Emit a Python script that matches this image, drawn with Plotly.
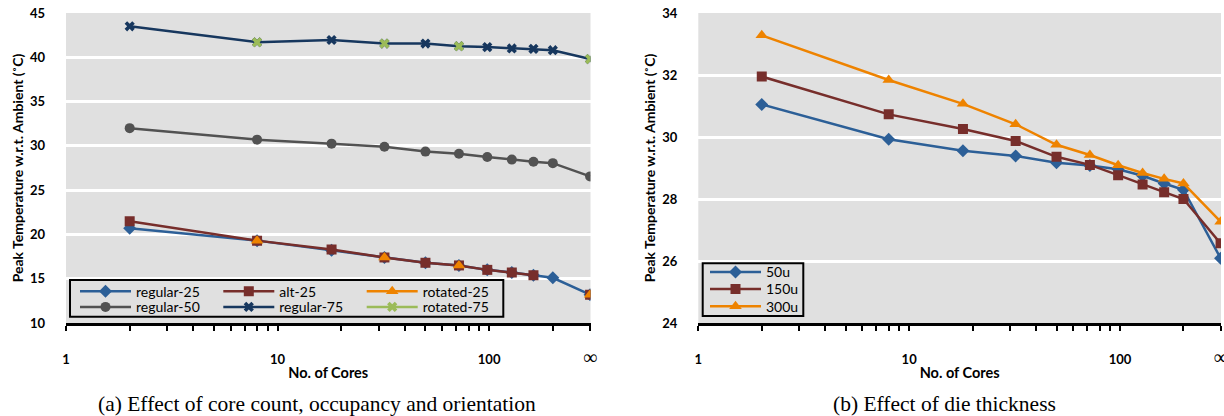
import math
import plotly.graph_objects as go

W, H = 1224, 416
ML, MR, MT, MB = 66, 3, 13, 93
PW = W - ML - MR
PH = H - MT - MB

def px_x(p):
    return (p - ML) / PW

def px_y(p):
    return (H - MB - p) / PH

# ---------------- data ----------------
cores = [2, 8, 18, 32, 50, 72, 98, 128, 162, 200, 300]      # 300 plotted as "∞"

# None = no measurement at that core count (line is broken there)
regular25 = [20.7, 19.3, 18.2, 17.4, 16.8, 16.5, 16.0, 15.7, 15.4, 15.1, 13.2]
alt25 = [21.5, 19.3, 18.3, 17.4, 16.8, 16.5, 16.0, 15.7, 15.4, None, 13.2]
rotated25 = [None, 19.3, None, 17.4, None, 16.5, None, None, None, None, 13.2]
regular50 = [32.0, 30.7, 30.25, 29.9, 29.35, 29.1, 28.75, 28.45, 28.2, 28.05, 26.55]
regular75 = [43.5, 41.7, 41.95, 41.55, 41.55, 41.25, 41.15, 41.0, 40.95, 40.8, 39.8]
rotated75 = [None, 41.7, None, 41.55, None, 41.25, None, None, None, None, 39.8]

thick50 = [31.05, 29.93, 29.56, 29.39, 29.17, 29.08, 28.96, 28.75, 28.5, 28.3, 26.09]
thick150 = [31.95, 30.73, 30.26, 29.87, 29.36, 29.1, 28.77, 28.47, 28.22, 28.0, 26.57]
thick300 = [33.28, 31.84, 31.07, 30.41, 29.75, 29.42, 29.09, 28.84, 28.65, 28.5, 27.27]

x_tickvals = [1, 10, 100, 300]
x_ticktext = ["1", "10", "100",
              "<span style='font-family:Liberation Serif;font-weight:normal;font-size:20px'>∞</span>"]
x_minor = [2, 3, 4, 5, 6, 7, 8, 9, 20, 30, 40, 50, 60, 70, 80, 90, 200]
left_yticks = [10, 15, 20, 25, 30, 35, 40, 45]
right_yticks = [24, 26, 28, 30, 32, 34]

BLUE = "#2C5F97"
BROWN = "#772E2B"
ORANGE = "#EE8300"
GRAY = "#525252"
NAVY = "#17375E"
GREEN = "#9BBB59"
BG = "#E0E0E0"

FONT = "Lato"

fig = go.Figure()

def add(x, y, name, color, symbol, size, xa, ya, legend):
    fig.add_trace(go.Scatter(
        x=x, y=y, name=name, mode="lines+markers", connectgaps=False,
        line=dict(color=color, width=2.5),
        marker=dict(symbol=symbol, size=size, color=color,
                    line=dict(width=0)),
        xaxis=xa, yaxis=ya, legend=legend))

add(cores, regular25, "regular-25", BLUE, "diamond", 10, "x", "y", "legend")
add(cores, alt25, "alt-25", BROWN, "square", 10, "x", "y", "legend2")
add(cores, rotated25, "rotated-25", ORANGE, "triangle-up", 11, "x", "y", "legend3")
add(cores, regular50, "regular-50", GRAY, "circle", 10, "x", "y", "legend4")
add(cores, regular75, "regular-75", NAVY, "x", 9, "x", "y", "legend5")
add(cores, rotated75, "rotated-75", GREEN, "x", 9, "x", "y", "legend6")

add(cores, thick50, "50u", BLUE, "diamond", 10, "x2", "y2", "legend7")
add(cores, thick150, "150u", BROWN, "square", 10, "x2", "y2", "legend8")
add(cores, thick300, "300u", ORANGE, "triangle-up", 11, "x2", "y2", "legend9")

tickfont = dict(family=FONT, size=13, color="black", weight="bold")

def xaxis_cfg(domain):
    return dict(
        type="log", domain=domain,
        range=[0, math.log10(300) + 0.002],
        tickmode="array", tickvals=x_tickvals, ticktext=x_ticktext,
        showline=True, linecolor="black", linewidth=3,
        ticks="outside", ticklen=5, tickwidth=2, tickcolor="black",
        minor=dict(tickmode="array", tickvals=x_minor, ticks="outside",
                   ticklen=5, tickwidth=2, tickcolor="black", showgrid=False),
        showgrid=False, zeroline=False,
        tickfont=tickfont, ticklabelstandoff=17, ticklabeloverflow="allow",
        title=dict(text="No. of Cores",
                   font=dict(family=FONT, size=14.5, color="black", weight="bold"),
                   standoff=2),
    )

def yaxis_cfg(rng, tickvals, anchor):
    return dict(
        range=rng, tickmode="array", tickvals=tickvals,
        showgrid=True, gridcolor="white", gridwidth=3,
        showline=False, zeroline=False, ticks="",
        tickfont=tickfont, ticklabelstandoff=20, anchor=anchor,
        title=dict(text="Peak Temperature w.r.t. Ambient (˚C)",
                   font=dict(family=FONT, size=14, color="black", weight="bold"),
                   standoff=3),
    )

left_dom = [0, px_x(590.5)]
right_dom = [px_x(698.3), 1]

legend_common = dict(
    orientation="v", bgcolor="rgba(0,0,0,0)", borderwidth=0,
    font=dict(family=FONT, size=14, color="black"),
    itemwidth=51, xref="paper", yref="paper",
    xanchor="left", yanchor="middle",
)

def leg(sym_left, row_center):
    return dict(legend_common, x=px_x(sym_left - 5), y=px_y(row_center))

fig.update_layout(
    width=W, height=H,
    margin=dict(l=ML, r=MR, t=MT, b=MB, autoexpand=False),
    paper_bgcolor="white", plot_bgcolor=BG,
    xaxis=xaxis_cfg(left_dom),
    yaxis=yaxis_cfg([10, 45], left_yticks, "x"),
    xaxis2=dict(xaxis_cfg(right_dom), anchor="y2"),
    yaxis2=yaxis_cfg([24, 34], right_yticks, "x2"),
    legend=leg(80, 291.7),
    legend2=leg(223.3, 291.7),
    legend3=leg(366.7, 291.7),
    legend4=leg(80, 307.3),
    legend5=leg(223.3, 307.3),
    legend6=leg(366.7, 307.3),
    legend7=leg(710, 272.3),
    legend8=leg(710, 289.3),
    legend9=leg(710, 306.7),
    showlegend=True,
    shapes=[
        dict(type="rect", xref="paper", yref="paper",
             x0=px_x(70), x1=px_x(503.3), y0=px_y(316.7), y1=px_y(280),
             line=dict(color="black", width=2), fillcolor="rgba(0,0,0,0)",
             layer="above"),
        dict(type="rect", xref="paper", yref="paper",
             x0=px_x(702.7), x1=px_x(803.3), y0=px_y(316), y1=px_y(263.3),
             line=dict(color="black", width=2), fillcolor="rgba(0,0,0,0)",
             layer="above"),
    ],
    annotations=[
        dict(text="(a) Effect of core count, occupancy and orientation",
             xref="paper", yref="paper", x=px_x(316.7), y=px_y(404),
             xanchor="center", yanchor="middle", showarrow=False,
             font=dict(family="Liberation Serif", size=21.5, color="black")),
        dict(text="(b) Effect of die thickness",
             xref="paper", yref="paper", x=px_x(944), y=px_y(404),
             xanchor="center", yanchor="middle", showarrow=False,
             font=dict(family="Liberation Serif", size=21.5, color="black")),
    ],
)

fig.write_html("out.html")
